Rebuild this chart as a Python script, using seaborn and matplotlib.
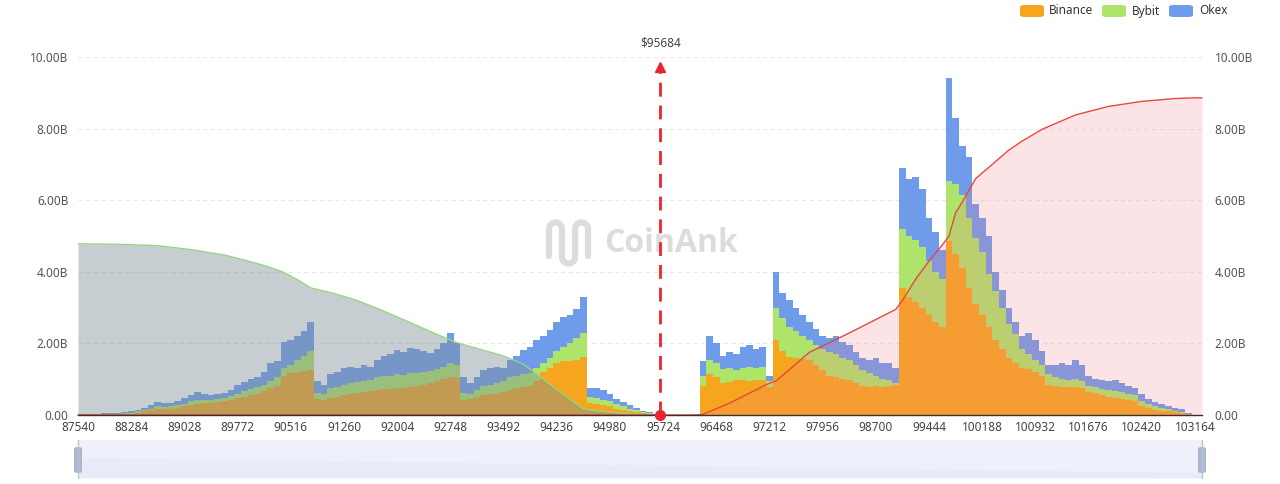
import numpy as np
import pandas as pd
import matplotlib
matplotlib.use("Agg")
import matplotlib.pyplot as plt
import seaborn as sns
from matplotlib.patches import FancyBboxPatch
from matplotlib.lines import Line2D

# ---------------- data (values in billions USD) ----------------
price_start = 87540
price_step = 93

binance = [0.02, 0.02, 0.02, 0.02, 0.03, 0.03, 0.03, 0.03, 0.04, 0.06,
           0.10, 0.13, 0.16, 0.16, 0.18, 0.20, 0.24, 0.28, 0.32, 0.33,
           0.34, 0.36, 0.38, 0.42, 0.47, 0.50, 0.55, 0.60, 0.68, 0.75,
           0.82, 1.10, 1.17, 1.20, 1.22, 1.26, 0.45, 0.42, 0.48, 0.50,
           0.55, 0.58, 0.62, 0.65, 0.68, 0.70, 0.72, 0.74, 0.76, 0.76,
           0.78, 0.80, 0.85, 0.90, 0.95, 1.00, 1.05, 1.02, 0.42, 0.45,
           0.50, 0.55, 0.58, 0.60, 0.64, 0.70, 0.75, 0.78, 0.80, 0.95,
           1.20, 1.30, 1.45, 1.50, 1.50, 1.55, 1.62, 0.33, 0.30, 0.28,
           0.24, 0.18, 0.14, 0.10, 0.08, 0.05, 0.03, 0.01, 0.00, 0.00,
           0.00, 0.00, 0.00, 0.01, 0.80, 1.15, 1.05, 0.90, 0.92, 0.98,
           0.98, 0.95, 0.98, 0.98, 0.78, 2.10, 1.80, 1.62, 1.60, 1.56,
           1.54, 1.40, 1.25, 1.10, 1.05, 1.00, 0.98, 0.90, 0.80, 0.78,
           0.80, 0.78, 0.82, 0.85, 3.55, 3.30, 3.15, 3.00, 2.80, 2.60,
           2.45, 4.85, 4.50, 4.10, 3.55, 3.10, 2.80, 2.45, 2.10, 1.85,
           1.60, 1.45, 1.30, 1.28, 1.20, 1.10, 0.85, 0.80, 0.78, 0.78,
           0.78, 0.75, 0.65, 0.62, 0.55, 0.50, 0.48, 0.44, 0.42, 0.38,
           0.26, 0.20, 0.15, 0.12, 0.10, 0.07, 0.05, 0.03, 0.01]

bybit = [0.00, 0.00, 0.01, 0.01, 0.01, 0.01, 0.01, 0.02, 0.02, 0.04,
         0.04, 0.05, 0.08, 0.06, 0.06, 0.08, 0.08, 0.10, 0.10, 0.10,
         0.08, 0.09, 0.09, 0.10, 0.13, 0.16, 0.17, 0.18, 0.17, 0.20,
         0.23, 0.20, 0.23, 0.35, 0.43, 0.54, 0.17, 0.18, 0.27, 0.28,
         0.30, 0.32, 0.30, 0.30, 0.30, 0.35, 0.36, 0.36, 0.39, 0.36,
         0.39, 0.38, 0.35, 0.32, 0.33, 0.34, 0.40, 0.38, 0.20, 0.15,
         0.20, 0.25, 0.27, 0.30, 0.31, 0.35, 0.35, 0.37, 0.38, 0.35,
         0.25, 0.30, 0.35, 0.40, 0.50, 0.60, 0.67, 0.17, 0.18, 0.14,
         0.14, 0.12, 0.10, 0.08, 0.05, 0.03, 0.02, 0.00, 0.00, 0.00,
         0.00, 0.00, 0.01, 0.01, 0.30, 0.40, 0.40, 0.38, 0.38, 0.28,
         0.34, 0.40, 0.34, 0.36, 0.17, 0.90, 0.90, 0.84, 0.75, 0.64,
         0.56, 0.55, 0.60, 0.65, 0.65, 0.60, 0.57, 0.50, 0.45, 0.39,
         0.30, 0.22, 0.16, 0.05, 1.65, 1.70, 1.75, 1.70, 1.50, 1.40,
         1.35, 1.70, 1.95, 2.05, 1.95, 1.85, 1.75, 1.50, 1.35, 1.15,
         0.95, 0.80, 0.55, 0.42, 0.35, 0.30, 0.30, 0.25, 0.22, 0.20,
         0.22, 0.20, 0.15, 0.16, 0.17, 0.20, 0.20, 0.19, 0.18, 0.17,
         0.14, 0.10, 0.09, 0.08, 0.06, 0.03, 0.03, 0.01, 0.00]

okex = [0.01, 0.01, 0.01, 0.01, 0.01, 0.02, 0.01, 0.03, 0.04, 0.05,
        0.06, 0.10, 0.11, 0.11, 0.09, 0.12, 0.15, 0.17, 0.22, 0.17,
        0.14, 0.15, 0.15, 0.18, 0.25, 0.27, 0.28, 0.28, 0.35, 0.50,
        0.45, 0.75, 0.70, 0.65, 0.70, 0.80, 0.33, 0.25, 0.40, 0.42,
        0.45, 0.45, 0.38, 0.45, 0.37, 0.50, 0.57, 0.60, 0.67, 0.63,
        0.71, 0.67, 0.58, 0.50, 0.57, 0.66, 0.85, 0.60, 0.43, 0.30,
        0.35, 0.45, 0.45, 0.45, 0.35, 0.50, 0.55, 0.67, 0.72, 0.80,
        0.75, 0.77, 0.80, 0.85, 0.80, 0.80, 1.01, 0.25, 0.27, 0.28,
        0.22, 0.15, 0.11, 0.10, 0.07, 0.04, 0.03, 0.01, 0.00, 0.00,
        0.00, 0.00, 0.00, 0.01, 0.40, 0.65, 0.55, 0.37, 0.45, 0.44,
        0.58, 0.60, 0.53, 0.56, 0.15, 1.00, 0.70, 0.74, 0.65, 0.60,
        0.50, 0.45, 0.35, 0.40, 0.50, 0.45, 0.40, 0.35, 0.35, 0.38,
        0.50, 0.45, 0.47, 0.40, 1.70, 1.60, 1.75, 1.60, 1.20, 1.10,
        0.80, 2.85, 1.85, 1.35, 1.70, 0.95, 0.95, 1.05, 0.55, 0.50,
        0.45, 0.35, 0.35, 0.60, 0.55, 0.40, 0.25, 0.35, 0.45, 0.42,
        0.55, 0.45, 0.30, 0.22, 0.26, 0.25, 0.30, 0.27, 0.22, 0.20,
        0.18, 0.15, 0.11, 0.10, 0.10, 0.10, 0.10, 0.02, 0.00]

# cumulative liquidation (long side, below price) - grey area
left_cum_prices = [87540, 88098, 88656, 89121, 89586, 89958, 90237, 90423,
                   90609, 90795, 91074, 91446, 91818, 92190, 92562, 92841,
                   93120, 93492, 93771, 94050, 94329, 94608, 94794, 95073,
                   95352, 95631]
left_cum_values = [4.78, 4.77, 4.73, 4.62, 4.47, 4.28, 4.12, 3.98,
                   3.78, 3.55, 3.42, 3.20, 2.90, 2.58, 2.25, 2.02,
                   1.86, 1.65, 1.42, 1.00, 0.58, 0.18, 0.12, 0.06,
                   0.02, 0.00]

# cumulative liquidation (short side, above price) - red area
right_cum_prices = [87540, 96189, 96282, 96654, 97212, 97305, 97770, 98328,
                    98979, 99072, 99258, 99444, 99630, 99723, 99816, 99909,
                    100095, 100281, 100560, 100746, 101025, 101490, 101955,
                    102420, 102885, 103164, 103262]
right_cum_values = [0.00, 0.00, 0.02, 0.33, 0.89, 0.95, 1.75, 2.29,
                    2.95, 3.20, 3.80, 4.30, 4.75, 5.00, 5.65, 5.95,
                    6.60, 6.92, 7.40, 7.65, 7.98, 8.38, 8.62,
                    8.76, 8.84, 8.86, 8.86]

current_price = 95684
xtick_values = [87540, 88284, 89028, 89772, 90516, 91260, 92004, 92748,
                93492, 94236, 94980, 95724, 96468, 97212, 97956, 98700,
                99444, 100188, 100932, 101676, 102420, 103164]
y_ticks = [0, 2, 4, 6, 8, 10]
series_names = ["Binance", "Bybit", "Okex"]
series_colors = {"Binance": "#f6a51f", "Bybit": "#afe46b", "Okex": "#6e9ceb"}

# ---------------- figure ----------------
sns.set_style("white")
plt.rcParams["font.family"] = ["Noto Sans", "DejaVu Sans"]

W, H = 1280, 484
fig = plt.figure(figsize=(W / 100, H / 100), dpi=100)
fx = lambda x: x / W
fy = lambda y: 1 - y / H

ax = fig.add_axes([fx(78), fy(415), fx(1202) - fx(78), fy(57) - fy(415)])

prices = price_start + price_step * np.arange(len(binance))
n = len(prices)
df = pd.DataFrame({
    "price": np.tile(prices, 3).astype(float),
    "value": np.concatenate([okex, bybit, binance]),
    "exchange": np.repeat(["Okex", "Bybit", "Binance"], n),
})
lo = float(prices[0] - price_step / 2)
hi = float(prices[-1] + price_step / 2)

sns.histplot(data=df, x="price", weights="value", hue="exchange",
             hue_order=["Okex", "Bybit", "Binance"], multiple="stack",
             binwidth=price_step, binrange=(lo, hi), element="step",
             fill=True, alpha=1, linewidth=0,
             palette=series_colors, legend=False, ax=ax, zorder=2)

# cumulative areas
ax.fill_between(left_cum_prices, left_cum_values, 0, color="#7f8f96",
                alpha=0.43, linewidth=0, zorder=3)
ax.plot(left_cum_prices, left_cum_values, color="#97d585", lw=1.0, zorder=4)
ax.fill_between(right_cum_prices, right_cum_values, 0, color="#f27b86",
                alpha=0.2, linewidth=0, zorder=3)
ax.plot(right_cum_prices, right_cum_values, color="#e8463f", lw=1.0,
        zorder=4, clip_on=False)

# current price marker
ax.plot([current_price, current_price], [0, 9.7], color="#e8262d", lw=2,
        dashes=(5, 3.2), zorder=6)
ax.plot([current_price], [9.72], marker="^", ms=7, color="#e8262d",
        zorder=6, clip_on=False)
ax.plot([current_price], [0], marker="o", ms=7, color="#e8262d",
        zorder=7, clip_on=False)
ax.text(current_price, 10.38, f"${current_price}", ha="center", va="center",
        fontsize=8.5, color="#444444", clip_on=False)

# axes styling
ax.set_xlim(87540, 103262)
ax.set_ylim(0, 10)
ax.set_xlabel("")
ax.set_ylabel("")
ax.set_xticks(xtick_values)
ax.set_xticklabels([str(v) for v in xtick_values])
ax.set_yticks(y_ticks)
ylabels = ["0.00" if v == 0 else f"{v:.2f}B" for v in y_ticks]
ax.set_yticklabels(ylabels)
ax.tick_params(axis="x", length=0, pad=4, labelsize=8.5, labelcolor="#444444")
ax.tick_params(axis="y", length=0, pad=7, labelsize=8.5, labelcolor="#555555")
for s in ["top", "left", "right"]:
    ax.spines[s].set_visible(False)
ax.spines["bottom"].set_color("#333333")
ax.spines["bottom"].set_linewidth(1)
ax.spines["bottom"].set_zorder(5)
ax.yaxis.grid(True, linestyle=(0, (4, 3)), color="#e8e8e8", lw=0.8)
ax.xaxis.grid(False)
ax.set_axisbelow(True)

axr = ax.twinx()
axr.set_ylim(0, 10)
axr.set_yticks(y_ticks)
axr.set_yticklabels(ylabels)
axr.tick_params(axis="y", length=0, pad=9, labelsize=8.5, labelcolor="#555555")
for s in axr.spines.values():
    s.set_visible(False)
axr.grid(False)

# watermark
ax.text(fx(671), fy(244), "CoinAnk", transform=fig.transFigure, ha="center",
        va="center", fontsize=23, fontweight="bold", family=["Open Sans", "DejaVu Sans"],
        color="#dcdcdc", zorder=1)
t = np.linspace(0, np.pi, 24)
wx, wy = [], []
cols = [549, 562, 575, 588]
for k in range(3):
    x0, x1 = cols[k], cols[k + 1]
    cx, r = (x0 + x1) / 2, (x1 - x0) / 2
    if k % 2 == 0:
        wx += list(cx - r * np.cos(t)); wy += list(229 - r * np.sin(t))
    else:
        wx += list(cx - r * np.cos(t)); wy += list(257 + r * np.sin(t))
wx = [549] + wx + [588]
wy = [256] + wy + [256]
ax.plot([fx(v) for v in wx], [fy(v) for v in wy], lw=4.5, color="#dcdcdc",
        solid_capstyle="round", solid_joinstyle="round",
        transform=fig.transFigure, zorder=1, clip_on=False)

# legend (top right)
leg_items = [("Binance", 1020, 1049), ("Bybit", 1102, 1132), ("Okex", 1169, 1199)]
for name, px, tx in leg_items:
    fig.patches.append(FancyBboxPatch((fx(px), fy(17)), fx(24), fy(5) - fy(17),
                                      boxstyle="round,pad=0,rounding_size=0.004",
                                      transform=fig.transFigure,
                                      facecolor=series_colors[name], edgecolor="none"))
    fig.text(fx(tx), fy(11), name, ha="left", va="center", fontsize=8.5,
             color="#333333")

# data zoom slider
axs = fig.add_axes([fx(78), fy(478), fx(1202) - fx(78), fy(440) - fy(478)])
axs.set_facecolor("#eef1fb")
axs.set_xticks([]); axs.set_yticks([])
for s in axs.spines.values():
    s.set_visible(False)
axs.fill_between([0, 1], [0.55, 0.15], 0, color="#e8ecf9", lw=0)
axs.set_xlim(0, 1); axs.set_ylim(0, 1)
for hx in [78, 1202]:
    fig.add_artist(Line2D([fx(hx), fx(hx)], [fy(440), fy(478)], lw=1,
                          color="#b9c4d6", transform=fig.transFigure))
    fig.patches.append(FancyBboxPatch((fx(hx - 4), fy(473)), fx(8), fy(447) - fy(473),
                                      boxstyle="round,pad=0,rounding_size=0.003",
                                      transform=fig.transFigure,
                                      facecolor="#a9b8cd", edgecolor="none"))

fig.savefig("out.png", dpi=100)
